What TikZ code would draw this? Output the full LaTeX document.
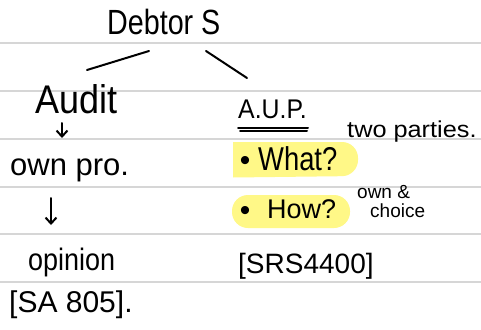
\documentclass[tikz,border=0pt]{standalone}
\usepackage{fontspec}
\setmainfont{Liberation Sans}
\usetikzlibrary{arrows.meta}
\definecolor{rule}{RGB}{214,214,214}
\definecolor{hl}{RGB}{255,248,135}
\begin{document}
\begin{tikzpicture}[x=1pt,y=-1pt,
  ink/.style={line width=2pt,line cap=round,black},
  hand/.style={inner sep=0pt,anchor=base west},
  fs/.style={font=\fontsize{#1}{#1}\selectfont},
  barb/.style={-{Straight Barb[length=6pt,width=11pt,line width=2pt]}},
  hlbox/.style={fill=hl,draw=none}]
\useasboundingbox (0,0) rectangle (481,329);
\fill[white] (0,0) rectangle (481,329);
% ruled lines
\foreach \y in {43,91,139,187,234,282}
  \draw[rule,line width=1.2pt] (0,\y) -- (481,\y);
% highlights
\fill[hlbox] (233,177.5) -- (233,142) [rounded corners=16pt] -- (358,142) -- (358,176) [sharp corners] -- cycle;
\fill[hlbox,rounded corners=16pt] (232,195) rectangle (350,228);
% title
\node[hand,fs=35,xscale=0.82] (debt) at (107,35) {Debtor S};
% left branch
\node[hand,fs=40,xscale=0.9] (audit) at (35,113) {Audit};
\node[hand,fs=31] (ownpro) at (10,175) {own pro.};
\node[hand,fs=31,xscale=0.87] (opin) at (28,270) {opinion};
\node[hand,fs=30] (sa) at (9,312) {[SA 805].};
% right branch
\node[hand,fs=27,xscale=0.92] (aup) at (238,118) {A.U.P.};
\node[hand,fs=30,anchor=center] (b1) at (245,163) {•};
\node[hand,fs=33,xscale=0.83] (what) at (258,170) {What?};
\node[hand,fs=30,anchor=center] (b2) at (245,213) {•};
\node[hand,fs=27] (how) at (267,218) {How?};
\node[hand,fs=28] (srs) at (238,273) {[SRS4400]};
\node[hand,fs=23,xscale=1.1] (two) at (347,137) {two parties.};
\node[hand,fs=19] (own) at (357,198) {own \&};
\node[hand,fs=19] (choice) at (370,217) {choice};
% connectors
\coordinate (l1a) at (149,51); \coordinate (l1b) at (87,70);
\coordinate (l2a) at (206,51); \coordinate (l2b) at (247,78);
\draw[ink] (l1a) -- (l1b);
\draw[ink] (l2a) -- (l2b);
\coordinate (a1s) at (62,123); \coordinate (a1e) at (62,138);
\coordinate (a2s) at (51,198); \coordinate (a2e) at (51,225);
\draw[ink,barb] (a1s) -- (a1e);
\draw[ink,barb] (a2s) -- (a2e);
% double underline under A.U.P.
\coordinate (u1a) at (238,127.5); \coordinate (u1b) at (308,127.5);
\coordinate (u2a) at (240,130.8); \coordinate (u2b) at (307,130.8);
\draw[ink] (u1a) -- (u1b);
\draw[ink] (u2a) -- (u2b);
\end{tikzpicture}
\end{document}
